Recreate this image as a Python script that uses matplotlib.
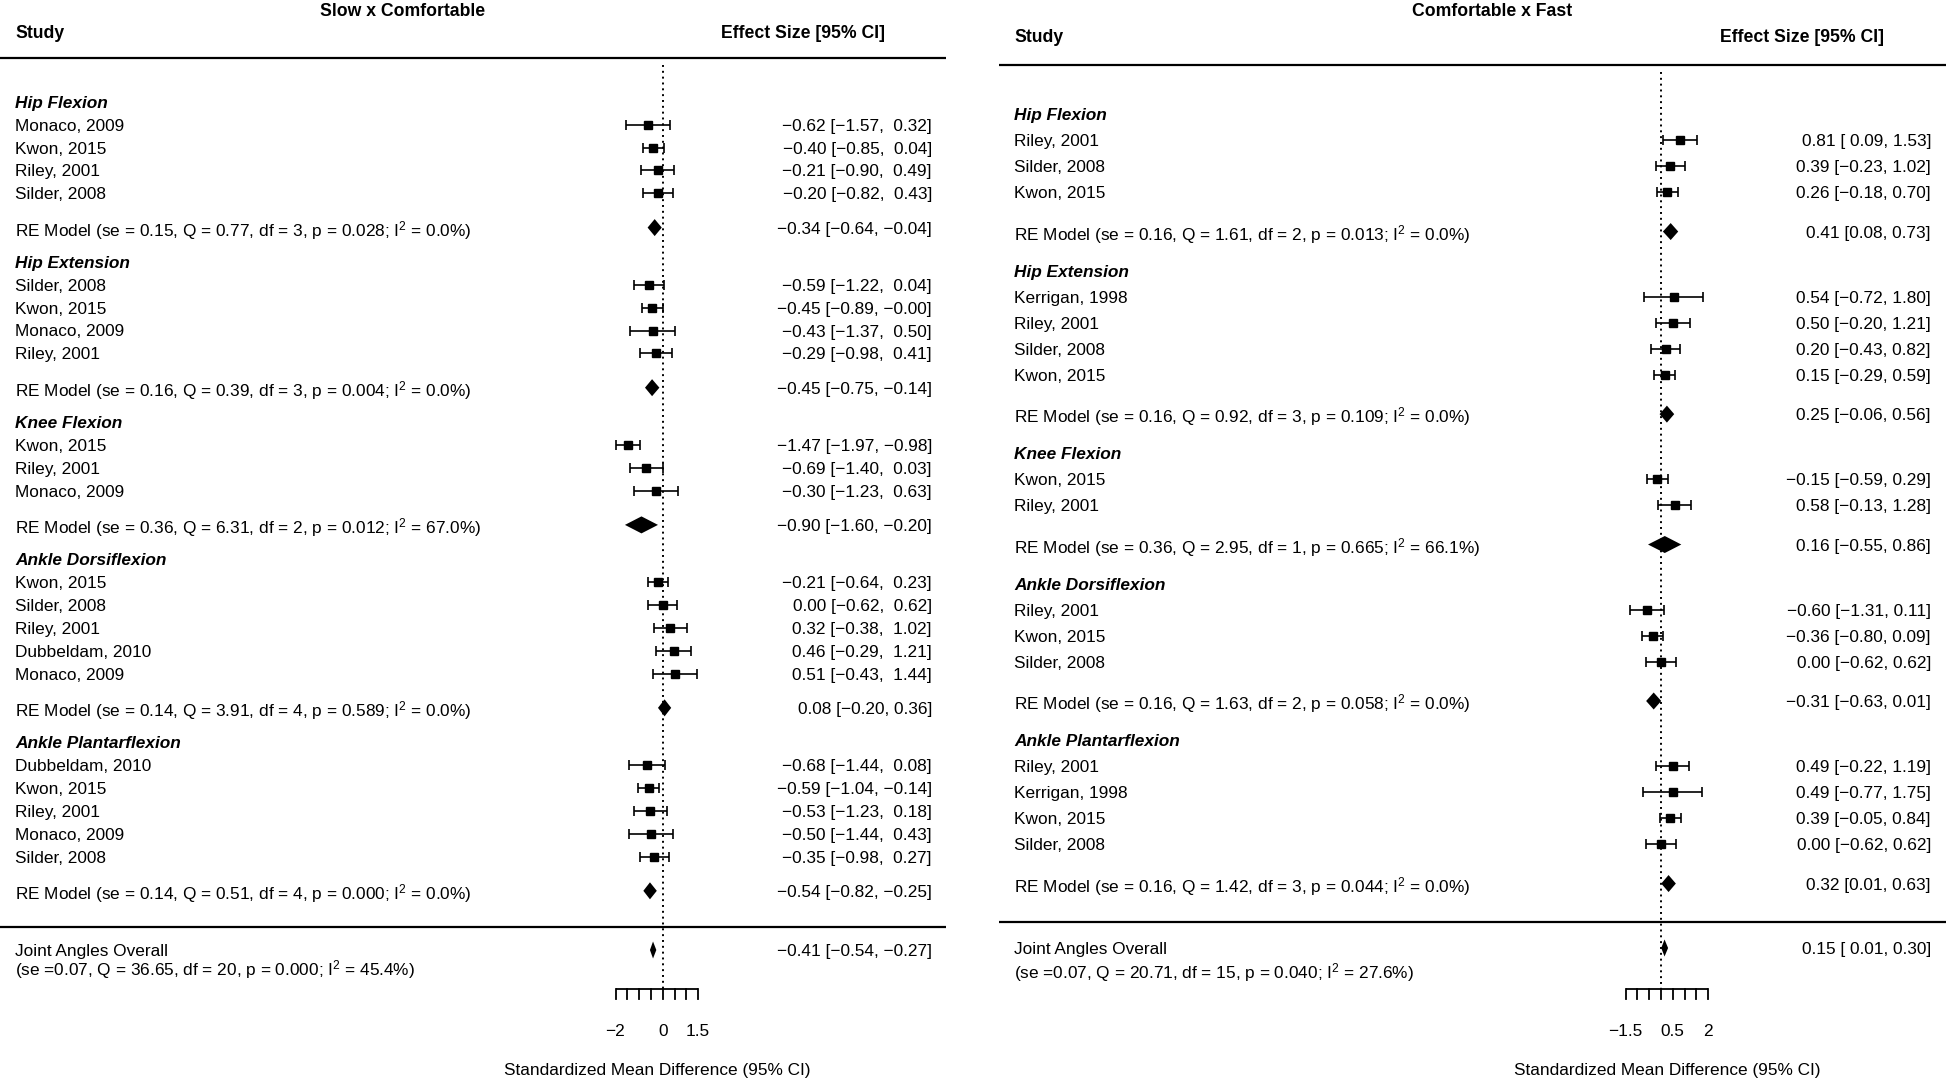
## Imports

import matplotlib
matplotlib.use("Agg")
from matplotlib import pyplot as plt
from matplotlib import font_manager
import numpy as np

## Données : Slow x Comfortable (panneau gauche)

left_groups = ["Hip Flexion", "Hip Extension", "Knee Flexion", "Ankle Dorsiflexion", "Ankle Plantarflexion"]
left_studies = [["Monaco, 2009", "Kwon, 2015", "Riley, 2001", "Silder, 2008"],
                ["Silder, 2008", "Kwon, 2015", "Monaco, 2009", "Riley, 2001"],
                ["Kwon, 2015", "Riley, 2001", "Monaco, 2009"],
                ["Kwon, 2015", "Silder, 2008", "Riley, 2001", "Dubbeldam, 2010", "Monaco, 2009"],
                ["Dubbeldam, 2010", "Kwon, 2015", "Riley, 2001", "Monaco, 2009", "Silder, 2008"]]
left_est = [[-0.62, -0.40, -0.21, -0.20],
            [-0.59, -0.45, -0.43, -0.29],
            [-1.47, -0.69, -0.30],
            [-0.21, 0.00, 0.32, 0.46, 0.51],
            [-0.68, -0.59, -0.53, -0.50, -0.35]]
left_lo = [[-1.57, -0.85, -0.90, -0.82],
           [-1.22, -0.89, -1.37, -0.98],
           [-1.97, -1.40, -1.23],
           [-0.64, -0.62, -0.38, -0.29, -0.43],
           [-1.44, -1.04, -1.23, -1.44, -0.98]]
left_hi = [[0.32, 0.04, 0.49, 0.43],
           [0.04, -0.00, 0.50, 0.41],
           [-0.98, 0.03, 0.63],
           [0.23, 0.62, 1.02, 1.21, 1.44],
           [0.08, -0.14, 0.18, 0.43, 0.27]]
left_re_est = [-0.34, -0.45, -0.90, 0.08, -0.54]
left_re_lo = [-0.64, -0.75, -1.60, -0.20, -0.82]
left_re_hi = [-0.04, -0.14, -0.20, 0.36, -0.25]
# se, Q, df, p, I2
left_re_stats = [(0.15, 0.77, 3, 0.028, 0.0),
                 (0.16, 0.39, 3, 0.004, 0.0),
                 (0.36, 6.31, 2, 0.012, 67.0),
                 (0.14, 3.91, 4, 0.589, 0.0),
                 (0.14, 0.51, 4, 0.000, 0.0)]
left_ov = (-0.41, -0.54, -0.27)
left_ov_stats = (0.07, 36.65, 20, 0.000, 45.4)
left_ticks = (-2.0, 1.5)
left_ticklab = [-2, 0, 1.5]

## Données : Comfortable x Fast (panneau droit)

right_groups = ["Hip Flexion", "Hip Extension", "Knee Flexion", "Ankle Dorsiflexion", "Ankle Plantarflexion"]
right_studies = [["Riley, 2001", "Silder, 2008", "Kwon, 2015"],
                 ["Kerrigan, 1998", "Riley, 2001", "Silder, 2008", "Kwon, 2015"],
                 ["Kwon, 2015", "Riley, 2001"],
                 ["Riley, 2001", "Kwon, 2015", "Silder, 2008"],
                 ["Riley, 2001", "Kerrigan, 1998", "Kwon, 2015", "Silder, 2008"]]
right_est = [[0.81, 0.39, 0.26],
             [0.54, 0.50, 0.20, 0.15],
             [-0.15, 0.58],
             [-0.60, -0.36, 0.00],
             [0.49, 0.49, 0.39, 0.00]]
right_lo = [[0.09, -0.23, -0.18],
            [-0.72, -0.20, -0.43, -0.29],
            [-0.59, -0.13],
            [-1.31, -0.80, -0.62],
            [-0.22, -0.77, -0.05, -0.62]]
right_hi = [[1.53, 1.02, 0.70],
            [1.80, 1.21, 0.82, 0.59],
            [0.29, 1.28],
            [0.11, 0.09, 0.62],
            [1.19, 1.75, 0.84, 0.62]]
right_re_est = [0.41, 0.25, 0.16, -0.31, 0.32]
right_re_lo = [0.08, -0.06, -0.55, -0.63, 0.01]
right_re_hi = [0.73, 0.56, 0.86, 0.01, 0.63]
right_re_stats = [(0.16, 1.61, 2, 0.013, 0.0),
                  (0.16, 0.92, 3, 0.109, 0.0),
                  (0.36, 2.95, 1, 0.665, 66.1),
                  (0.16, 1.63, 2, 0.058, 0.0),
                  (0.16, 1.42, 3, 0.044, 0.0)]
right_ov = (0.15, 0.01, 0.30)
right_ov_stats = (0.07, 20.71, 15, 0.040, 27.6)
right_ticks = (-1.5, 2.0)
right_ticklab = [-1.5, 0.5, 2]

## Polices

noms = {f.name for f in font_manager.fontManager.ttflist}
police = "Liberation Sans" if "Liberation Sans" in noms else "DejaVu Sans"
etroite = "Liberation Sans Narrow" if "Liberation Sans Narrow" in noms else police
plt.rcParams['font.family'] = [police, 'DejaVu Sans']
plt.rcParams['mathtext.fontset'] = 'custom'
plt.rcParams['mathtext.rm'] = police
plt.rcParams['mathtext.it'] = police + ':italic'
plt.rcParams['mathtext.bf'] = police + ':bold'
FS = 12.4

W, H = 1946, 1084
fig = plt.figure(figsize=(W / 100, H / 100), dpi=100)
SC = 23.6  # pixels par unité

def num(v, pad=False):
    s = f"{v:.2f}".replace("-", "\u2212")
    if pad and not s.startswith("\u2212"):
        s = " " + s
    return s

def stats_txt(st, sep=" = "):
    se, q, df, p, i2 = st
    return f"se{sep}{se:.2f}, Q = {q:.2f}, df = {df}, p = {p:.3f}; I$^2$ = {i2:.1f}%"

def Panneau(titre, groups, studies, est, lo, hi, re_est, re_lo, re_hi, re_stats,
            ov, ov_stats, ticks, ticklab, pad_lo, pad_hi,
            xl, xr, x_line0, x_line1, x0, x_txt, x_eff, x_titre, y_head, y_row0, dy,
            y_top, y_sep, y_ov, y_ov2):
    ax = fig.add_axes([xl / W, 0, (xr - xl) / W, 1])
    ax.set_xlim((xl - x0) / SC, (xr - x0) / SC)
    ax.set_ylim(H, 0)
    ax.axis('off')
    X = lambda p: (p - x0) / SC

    # En-têtes
    ax.text(X(x_titre), 12, titre, ha='center', va='center', fontsize=FS + 0.3,
            fontweight='bold', family=[etroite, police])
    ax.text(X(x_txt), y_head, "Study", ha='left', va='center', fontsize=FS + 0.3,
            fontweight='bold', family=[etroite, police])
    ax.text(X(x_eff - 47), y_head, "Effect Size [95% CI]", ha='right', va='center',
            fontsize=FS + 0.3, fontweight='bold', family=[etroite, police])
    ax.plot([X(x_line0), X(x_line1)], [y_top, y_top], color='k', lw=1.6, solid_capstyle='butt')
    ax.plot([X(x_line0), X(x_line1)], [y_sep, y_sep], color='k', lw=1.6, solid_capstyle='butt')

    # Lignes des études
    r = 0.0
    for g in range(len(groups)):
        y = y_row0 + r * dy
        ax.text(X(x_txt), y, groups[g], ha='left', va='center_baseline', fontsize=FS,
                fontweight='bold', fontstyle='italic', family=[etroite, police])
        for i in range(len(studies[g])):
            r += 1
            y = y_row0 + r * dy
            e, l, h = est[g][i], lo[g][i], hi[g][i]
            ax.text(X(x_txt), y, studies[g][i], ha='left', va='center_baseline', fontsize=FS)
            ax.errorbar([e], [y], xerr=[[e - l], [h - e]], fmt='s', color='k', ms=5.6,
                        capsize=3.8, elinewidth=1.2, capthick=1.2)
            ax.text(X(x_eff), y, f"{num(e)} [{num(l, pad_lo)}, {num(h, pad_hi)}]",
                    ha='right', va='center_baseline', fontsize=FS)
        r += 1.5
        y = y_row0 + r * dy
        e, l, h = re_est[g], re_lo[g], re_hi[g]
        ax.fill([l, e, h, e], [y, y - 8.5, y, y + 8.5], color='k', lw=0)
        ax.text(X(x_txt), y, "RE Model (" + stats_txt(re_stats[g]) + ")", ha='left',
                va='center_baseline', fontsize=FS)
        ax.text(X(x_eff), y, f"{num(e)} [{num(l)}, {num(h)}]",
                ha='right', va='center_baseline', fontsize=FS)
        r += 1.5

    # Effet global
    e, l, h = ov
    ax.fill([l, e, h, e], [y_ov, y_ov - 8.5, y_ov, y_ov + 8.5], color='k', lw=0)
    ax.text(X(x_txt), y_ov, "Joint Angles Overall", ha='left', va='center_baseline', fontsize=FS)
    ax.text(X(x_txt), y_ov2, "(" + stats_txt(ov_stats, " =") + ")", ha='left',
            va='center_baseline', fontsize=FS)
    ax.text(X(x_eff), y_ov, f"{num(e)} [{num(l, pad_lo)}, {num(h, pad_hi)}]",
            ha='right', va='center_baseline', fontsize=FS)

    # Ligne verticale à zéro
    ax.plot([0, 0], [y_top + 7, 989], color='k', lw=1.4, ls=(0, (1, 2)))

    # Axe
    t = np.arange(ticks[0], ticks[1] + 0.25, 0.5)
    ax.plot([t[0], t[-1]], [989, 989], color='k', lw=1.3, solid_capstyle='butt')
    for v in t:
        ax.plot([v, v], [989, 999], color='k', lw=1.3)
    for v in ticklab:
        ax.text(v, 1031, f"{v:g}".replace("-", "\u2212"), ha='center', va='center', fontsize=FS)
    ax.text((t[0] + t[-1]) / 2, 1070, "Standardized Mean Difference (95% CI)",
            ha='center', va='center', fontsize=FS)
    return ax

Panneau("Slow x Comfortable", left_groups, left_studies, left_est, left_lo, left_hi,
        left_re_est, left_re_lo, left_re_hi, left_re_stats, left_ov, left_ov_stats,
        left_ticks, left_ticklab, False, True,
        0, 960, 0, 946, 662.7, 15, 932, 403, 33.5, 101.8, 22.87, 58, 927, 950, 967)

Panneau("Comfortable x Fast", right_groups, right_studies, right_est, right_lo, right_hi,
        right_re_est, right_re_lo, right_re_hi, right_re_stats, right_ov, right_ov_stats,
        right_ticks, right_ticklab, True, False,
        999, 1946, 999, 1946, 1661, 1014, 1931, 1492, 37, 114.2, 26.08, 64.5, 922, 948, 970)

plt.savefig("out.png", dpi=100)
